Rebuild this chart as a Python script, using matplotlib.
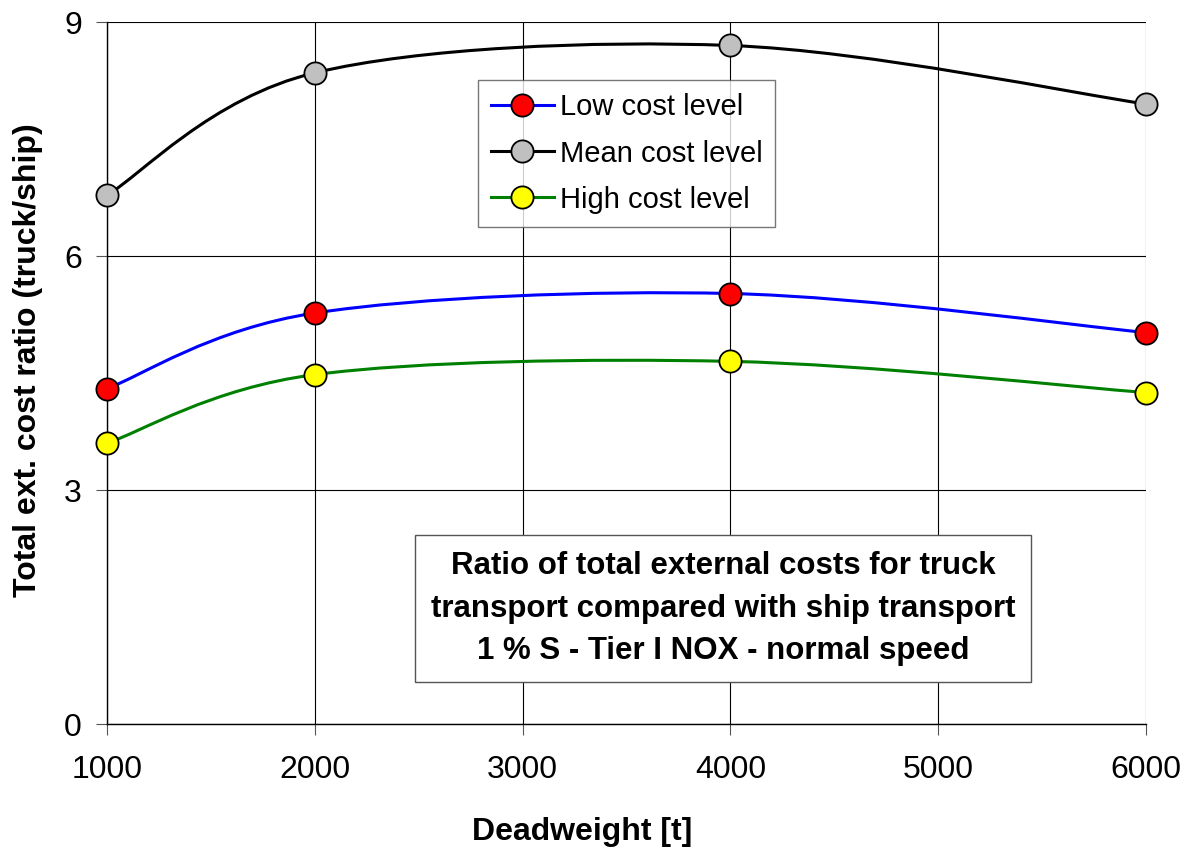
import numpy as np
import matplotlib.pyplot as plt
from matplotlib.path import Path
from matplotlib.patches import PathPatch
from matplotlib.lines import Line2D

plt.rcParams['font.family'] = ['Liberation Sans', 'DejaVu Sans']

deadweight = [1000, 2000, 4000, 6000]
low_cost = [4.30, 5.27, 5.52, 5.02]
mean_cost = [6.78, 8.35, 8.70, 7.95]
high_cost = [3.60, 4.48, 4.65, 4.25]

series = [
    ("Low cost level", low_cost, "#0000ff", "#ff0000"),
    ("Mean cost level", mean_cost, "#000000", "#c0c0c0"),
    ("High cost level", high_cost, "#008000", "#ffff00"),
]


def smooth_path(x, y):
    # Excel-like smoothed line: Catmull-Rom segments as cubic Bezier curves
    p = np.column_stack([x, y]).astype(float)
    ext = np.vstack([p[0], p, p[-1]])
    verts = [p[0]]
    codes = [Path.MOVETO]
    for i in range(1, len(ext) - 2):
        p0, p1, p2, p3 = ext[i - 1], ext[i], ext[i + 1], ext[i + 2]
        c1 = p1 + (p2 - p0) / 6.0
        c2 = p2 - (p3 - p1) / 6.0
        verts += [c1, c2, p2]
        codes += [Path.CURVE4] * 3
    return Path(verts, codes)


fig = plt.figure(figsize=(11.91, 8.5), dpi=100)
ax = fig.add_axes([0.0898, 0.1482, 0.8724, 0.8258])

handles = []
for name, vals, lc, mc in series:
    patch = PathPatch(smooth_path(deadweight, vals), facecolor="none",
                      edgecolor=lc, lw=2.2, zorder=3)
    ax.add_patch(patch)
    ax.plot(deadweight, vals, ls="none", marker="o", ms=16, mfc=mc,
            mec="black", mew=1.3, zorder=4, clip_on=False)
    handles.append(Line2D([], [], color=lc, lw=2.2, marker="o", ms=16,
                          mfc=mc, mec="black", mew=1.3, label=name))

ax.set_xlim(1000, 6000)
ax.set_ylim(0, 9)
ax.set_xticks(range(1000, 6001, 1000))
ax.set_yticks([0, 3, 6, 9])
ax.grid(True, color="black", lw=0.8)
ax.set_axisbelow(True)
for s in ["top", "right"]:
    ax.spines[s].set_visible(False)
ax.spines["left"].set_linewidth(1.0)
ax.spines["bottom"].set_linewidth(1.0)
ax.tick_params(axis="both", direction="out", length=8, width=0.8,
               color="#555555", labelsize=23)
ax.tick_params(axis="x", pad=14)
ax.tick_params(axis="y", pad=10)

ax.set_xlabel("Deadweight [t]", fontsize=23, fontweight="bold")
ax.set_ylabel("Total ext. cost ratio (truck/ship)", fontsize=23,
              fontweight="bold")
ax.xaxis.set_label_coords(0.457, -0.133)
ax.yaxis.set_label_coords(-0.062, 0.518)

leg = ax.legend(handles=handles, loc="upper left",
                bbox_to_anchor=(0.357, 0.917), borderaxespad=0,
                fontsize=21, frameon=True, fancybox=False,
                edgecolor="#555555", handlelength=2.15, handletextpad=0.2,
                borderpad=0.45, labelspacing=0.62)
leg.get_frame().set_linewidth(1.0)

ax.text(0.593, 0.1645,
        "Ratio of total external costs for truck\n"
        "transport compared with ship transport\n"
        "1 % S - Tier I NOX - normal speed",
        transform=ax.transAxes, ha="center", va="center",
        fontsize=22.5, fontweight="bold", linespacing=1.55,
        bbox=dict(boxstyle="square,pad=0.5", fc="white", ec="#555555", lw=1.0),
        zorder=5)

fig.savefig("out.png", dpi=100)
